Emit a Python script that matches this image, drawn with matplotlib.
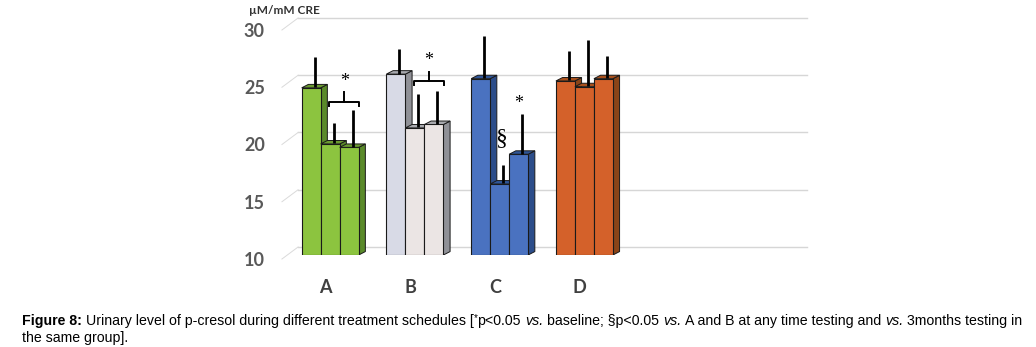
# -*- coding: utf-8 -*-
"""
Urinary p-cresol by treatment schedule, drawn as an Excel-like 3D column chart.
"""
import numpy as np
import matplotlib
matplotlib.use("Agg")
import matplotlib.pyplot as plt
from matplotlib.patches import Rectangle, Polygon
from matplotlib.transforms import ScaledTranslation

# ---- data ----
groups = ["A", "B", "C", "D"]
means = [[24.6, 19.7, 19.4],
         [25.8, 21.1, 21.4],
         [25.4, 16.2, 18.8],
         [25.2, 24.7, 25.4]]
errors = [[2.5, 1.7, 3.1],
          [2.0, 2.8, 2.8],
          [3.6, 1.5, 3.4],
          [2.5, 3.9, 1.8]]
yticks = [10, 15, 20, 25, 30]
ylabel = "µM/mM CRE"

# face colours per group: (front, top, side)
front_cols = [["#8cc43f"] * 3,
              ["#d8dae6", "#ebe5e4", "#ebe5e4"],
              ["#4a72c0"] * 3,
              ["#d4612a"] * 3]
top_cols = ["#6a9a30", "#a8a9ae", "#2f5597", "#a9501c"]
side_cols = ["#5a8a2a", "#909197", "#2c4d8a", "#8a4418"]

W, H = 1036, 347
fig = plt.figure(figsize=(W / 100, H / 100), dpi=100)
# axes: value 10..30 on the bar front plane, one x unit = one bar width
ax = fig.add_axes([280.8 / W, (H - 255) / H, 526.3 / W, 229 / H])
ax.set_xlim(-1.1, 26.6)
ax.set_ylim(10, 30)
for s in ax.spines.values():
    s.set_visible(False)

pitch = 4.46
dx, dy = 0.35, 0.3        # depth offset of bar top/side faces
gdx, gdy = 0.85, 1.05     # floor front edge -> back wall offset

# back wall gridlines plus the little diagonal stubs on the left
for v in yticks:
    ax.plot([-0.19, 26.6], [v + 0.7, v + 0.7], color="#d6d6d6", lw=1.0,
            zorder=0, clip_on=False)
    ax.plot([-1.04, -1.04 + gdx], [v - 0.35, v - 0.35 + gdy], color="#dadada",
            lw=0.7, zorder=0, clip_on=False)

# bars
for g in range(len(groups)):
    x_left = g * pitch
    for i, v in enumerate(means[g]):
        x0 = x_left + i
        side = Polygon([(x0 + 1, 10), (x0 + 1 + dx, 10 + dy),
                        (x0 + 1 + dx, v + dy), (x0 + 1, v)],
                       closed=True, fc=side_cols[g], ec="#1a1a1a", lw=0.7,
                       zorder=2)
        front = Rectangle((x0, 10), 1, v - 10, fc=front_cols[g][i],
                          ec="#1a1a1a", lw=0.8, zorder=2)
        top = Polygon([(x0, v), (x0 + 1, v), (x0 + 1 + dx, v + dy),
                       (x0 + dx, v + dy)], closed=True, fc=top_cols[g],
                      ec="#1a1a1a", lw=0.7, zorder=2)
        ax.add_patch(side)
        ax.add_patch(front)
        ax.add_patch(top)
        # upper error bar from the middle of the top face
        xc = x0 + 0.5 + dx / 2
        ax.plot([xc, xc], [v + dy / 2 - 0.1, v + dy / 2 + errors[g][i]],
                color="black", lw=2.0, zorder=3, solid_capstyle="butt",
                clip_on=False)

# significance marks
star_kw = dict(family="Liberation Serif", fontsize=13, ha="center",
               va="center", zorder=4)
for g, yl in [(0, 23.4), (1, 25.2)]:
    xa, xb = g * pitch + 1.45, g * pitch + 3.03
    xm = (xa + xb) / 2
    ax.plot([xa, xa, xb, xb], [yl - 0.35, yl, yl, yl - 0.35], color="black",
            lw=1.4, zorder=4, clip_on=False)
    ax.plot([xm, xm], [yl, yl + 0.8], color="black", lw=1.4, zorder=4)
    ax.text(xm, yl + 1.75, "*", **star_kw)
ax.text(2 * pitch + 1.58, 20.2, "§", family="Liberation Serif", fontsize=17,
        ha="center", va="center", zorder=4)
ax.text(2 * pitch + 2.51, 23.2, "*", **star_kw)

# axis labels
ax.set_yticks(yticks)
ax.set_yticklabels([str(t) for t in yticks], fontfamily="Lato",
                   fontweight="bold", fontsize=13, color="#595959")
ax.tick_params(axis="y", length=0, pad=11.4)
for lab in ax.get_yticklabels():
    lab.set_transform(lab.get_transform()
                      + ScaledTranslation(0, -0.04, fig.dpi_scale_trans))
ax.set_xticks([g * pitch + 1.26 for g in range(len(groups))])
ax.set_xticklabels(groups, fontfamily="Lato", fontweight="bold", fontsize=13,
                   color="#404040")
ax.tick_params(axis="x", length=0, pad=17)
fig.text(284 / W, 1 - 10 / H, ylabel, fontfamily="Lato", fontweight="bold",
         fontsize=8.5, color="#333333", ha="center", va="center")

# caption with mixed bold / italic / superscript runs
cap_size = 10.2
renderer = fig.canvas.get_renderer()
probe_a = fig.text(0, 0, "aa", family="Liberation Sans", fontsize=cap_size)
probe_b = fig.text(0, 0, "a a", family="Liberation Sans", fontsize=cap_size)
space = (probe_b.get_window_extent(renderer).width
         - probe_a.get_window_extent(renderer).width)
probe_a.remove()
probe_b.remove()

styles = {"b": dict(fontweight="bold"), "n": {}, "i": dict(style="italic"),
          "s": dict(fontsize=7)}
line1 = [("Figure 8:", "b", True),
         ("Urinary level of p-cresol during different treatment schedules [",
          "n", False),
         ("*", "s", False), ("p<0.05", "n", True), ("vs.", "i", True),
         ("baseline; §p<0.05", "n", True), ("vs.", "i", True),
         ("A and B at any time testing and", "n", True), ("vs.", "i", True),
         ("3months testing in", "n", False)]
line2 = [("the same group].", "n", False)]


def draw_line(pieces, y_px):
    x = 22.0
    for txt, st, gap in pieces:
        kw = dict(family="Liberation Sans", fontsize=cap_size, color="black",
                  va="baseline", ha="left")
        kw.update(styles[st])
        yy = y_px + (3.5 if st == "s" else 0)
        t = fig.text(x / W, yy / H, txt, **kw)
        x = t.get_window_extent(renderer).x1 + (space if gap else 0)
    return x


end1 = draw_line(line1, 22)
draw_line(line2, 5.3)

fig.savefig("out.png", dpi=100)
